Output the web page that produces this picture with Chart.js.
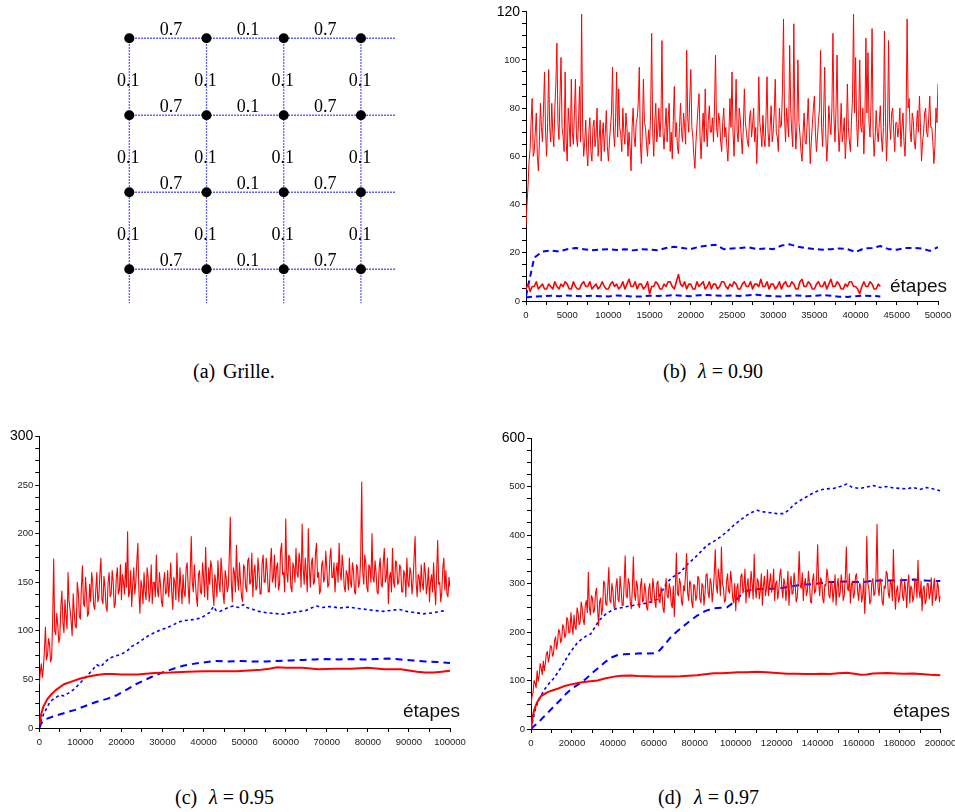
<!DOCTYPE html>
<html>
<head>
<meta charset="utf-8">
<script src="https://cdn.jsdelivr.net/npm/chart.js@4.4.1/dist/chart.umd.min.js"></script>
<style>
  html, body { margin: 0; padding: 0; background: #fff; }
  body { width: 955px; height: 812px; position: relative; overflow: hidden; }
  canvas { position: absolute; }
  .cap { position: absolute; font-family: "Liberation Serif", "Times New Roman", serif; font-size: 20px; line-height: 20px; color: #000; white-space: nowrap; }
</style>
</head>
<body>
<canvas id="grille" style="left:100px;top:0px" width="320" height="320"></canvas>
<canvas id="lam90" style="left:480px;top:0px" width="475" height="330"></canvas>
<canvas id="lam95" style="left:0px;top:420px" width="475" height="340"></canvas>
<canvas id="lam97" style="left:480px;top:420px" width="475" height="340"></canvas>

<span class="cap" style="left:193px;top:361px">(a)</span>
<span class="cap" style="left:223px;top:361px">Grille.</span>
<span class="cap" style="left:663px;top:361px">(b)</span>
<span class="cap" style="left:698px;top:361px"><i>λ</i> = 0.90</span>
<span class="cap" style="left:175px;top:787px">(c)</span>
<span class="cap" style="left:209px;top:787px"><i>λ</i> = 0.95</span>
<span class="cap" style="left:658px;top:787px">(d)</span>
<span class="cap" style="left:694px;top:787px"><i>λ</i> = 0.97</span>

<script>
// (a) grille
const gridCols = [0, 1, 2, 3];
const gridRows = [3, 2, 1, 0];
const hLabels = ["0.7", "0.1", "0.7"];
const vLabels = ["0.1", "0.1", "0.1"];
const gridEdgeX = 3.44;
const gridEdgeY = -0.44;

// (b) lambda = 0.90
const stepRedHighB = 125;
const redHighB = [
  31, 40, 48, 58, 63, 75, 84, 60, 62, 70, 78, 60, 54, 66, 82, 72, 66, 80, 95, 70,
  60, 74, 96, 72, 66, 82, 70, 64, 80, 90, 107, 74, 67, 85, 101, 72, 68, 62, 95, 66,
  58, 80, 73, 64, 92, 70, 65, 78, 92, 68, 64, 75, 89, 66, 119, 72, 60, 66, 75, 62,
  56, 70, 76, 62, 58, 72, 75, 64, 68, 80, 60, 67, 75, 58, 69, 74, 62, 70, 79, 64,
  58, 66, 72, 78, 97, 70, 64, 76, 95, 68, 88, 72, 69, 62, 80, 70, 65, 78, 72, 60,
  70, 64, 54, 72, 80, 68, 64, 74, 76, 82, 97, 66, 57, 70, 92, 74, 72, 65, 60, 71,
  65, 78, 111, 70, 60, 74, 82, 66, 71, 80, 68, 75, 108, 70, 63, 72, 80, 66, 75, 82,
  62, 70, 59, 75, 89, 68, 74, 64, 61, 72, 82, 70, 66, 78, 72, 65, 104, 76, 70, 84,
  96, 72, 68, 60, 55, 66, 73, 80, 86, 68, 59, 70, 78, 66, 88, 72, 64, 75, 81, 70,
  70, 76, 66, 80, 102, 72, 68, 78, 75, 66, 62, 74, 80, 68, 72, 64, 58, 70, 84, 72,
  95, 70, 60, 75, 92, 70, 66, 80, 76, 68, 61, 72, 88, 74, 70, 66, 64, 76, 79, 68,
  73, 80, 66, 72, 57, 70, 93, 74, 70, 64, 77, 68, 64, 76, 93, 70, 64, 72, 81, 66,
  70, 78, 92, 70, 68, 62, 80, 72, 73, 88, 117, 76, 66, 80, 74, 68, 106, 80, 70, 64,
  115, 76, 63, 72, 100, 74, 69, 62, 58, 70, 78, 66, 65, 74, 84, 70, 57, 66, 73, 80,
  85, 70, 62, 68, 75, 80, 104, 72, 64, 78, 97, 70, 58, 66, 81, 74, 69, 80, 111, 76,
  66, 80, 102, 72, 62, 70, 82, 66, 70, 76, 59, 68, 90, 72, 66, 62, 75, 84, 119, 78,
  101, 74, 64, 76, 100, 72, 70, 80, 61, 74, 109, 78, 103, 74, 68, 82, 113, 70, 60, 68,
  79, 70, 66, 74, 81, 68, 62, 72, 112, 76, 58, 70, 108, 74, 67, 78, 80, 70, 62, 74,
  74, 68, 72, 80, 64, 72, 78, 66, 60, 74, 117, 80, 84, 70, 66, 78, 75, 66, 63, 72,
  79, 70, 85, 72, 58, 66, 70, 78, 80, 70, 68, 76, 85, 72, 72, 66, 57, 64, 80, 74,
  90
];
const stepRedLowB = 250;
const redLowB = [
  5, 7, 4, 6, 6, 8, 5, 6, 7, 5, 5, 7, 6, 5, 8, 6, 5, 7, 6, 8,
  7, 5, 5, 8, 6, 5, 5, 7, 8, 6, 6, 8, 5, 6, 7, 5, 6, 8, 6, 5,
  5, 7, 8, 6, 7, 5, 6, 8, 5, 7, 9, 6, 6, 8, 5, 7, 7, 5, 6, 8,
  3, 6, 6, 8, 7, 5, 5, 7, 6, 8, 8, 6, 5, 8, 11, 7, 6, 8, 5, 7,
  7, 5, 5, 8, 6, 7, 8, 5, 6, 8, 5, 7, 7, 5, 6, 8, 8, 6, 5, 7,
  6, 8, 7, 5, 5, 7, 8, 6, 6, 8, 5, 7, 7, 6, 9, 6, 6, 8, 5, 7,
  7, 5, 6, 8, 5, 7, 8, 6, 6, 8, 7, 5, 5, 8, 9, 6, 6, 8, 7, 5,
  5, 7, 8, 6, 6, 8, 5, 7, 9, 6, 6, 8, 7, 5, 5, 7, 6, 8, 8, 6,
  6, 5, 3, 6, 8, 6, 6, 8, 7, 5, 5, 7, 6
];
const stepBlueB = 1000;
const blueHighB = [
  2, 18, 20.5, 21, 20.5, 21.5, 22, 21.5, 21, 21.3,
  21.5, 21.2, 21.5, 21, 21.5, 21.3, 21, 22, 22.5, 22,
  21.5, 22.5, 23, 23.3, 21.5, 21.8, 22, 22.3, 21.5, 21.8,
  21.5, 23, 23.5, 22.5, 22, 21.5, 21.3, 21.5, 21.8, 21.5,
  20.3, 21.8, 22, 22.8, 21.5, 21.3, 22, 22, 21.8, 20.8,
  22.3
];
const blueLowB = [
  1.5, 1.8, 2, 2.2, 2, 2.3, 2.1, 2, 2.2, 2,
  1.9, 2.3, 2.1, 1.8, 1.9, 2.2, 2.1, 2.2, 2.4, 2.2,
  2, 2.4, 2.5, 2.3, 2.2, 2.3, 2.1, 2.4, 2.6, 2.2,
  2, 1.9, 2.2, 2.3, 2, 2.1, 2.4, 2.2, 1.8, 1.7,
  2, 2.2, 2.1, 1.9
];

// (c) lambda = 0.95
const stepRedHighC = 250;
const redHighC = [
  45, 58, 66, 52, 62, 80, 104, 70, 75, 92, 86, 68, 72, 110, 174, 100, 96, 118, 106, 88,
  93, 125, 141, 108, 98, 132, 116, 102, 160, 130, 122, 110, 95, 138, 120, 105, 103, 150, 140, 115,
  112, 145, 167, 128, 125, 155, 138, 115, 118, 148, 130, 160, 150, 126, 122, 142, 160, 130, 135, 158,
  175, 132, 128, 156, 145, 125, 120, 150, 160, 135, 138, 162, 150, 124, 128, 155, 165, 138, 142, 168,
  132, 158, 150, 138, 170, 145, 202, 135, 140, 162, 125, 148, 165, 138, 150, 172, 190, 140, 118, 152,
  145, 128, 160, 140, 132, 165, 155, 130, 140, 168, 128, 150, 150, 135, 178, 142, 135, 160, 148, 130,
  125, 150, 160, 138, 140, 162, 135, 150, 170, 140, 122, 155, 150, 132, 180, 145, 130, 165, 145, 128,
  158, 140, 135, 165, 170, 145, 128, 160, 197, 150, 140, 168, 150, 135, 125, 158, 162, 140, 138, 170,
  155, 135, 186, 150, 132, 165, 148, 172, 165, 140, 126, 158, 150, 135, 172, 150, 140, 175, 160, 138,
  128, 162, 155, 140, 145, 175, 217, 150, 130, 165, 160, 140, 188, 155, 142, 170, 150, 135, 130, 168,
  165, 145, 140, 172, 175, 148, 150, 180, 135, 160, 168, 142, 145, 175, 160, 138, 138, 170, 178, 150,
  150, 175, 162, 140, 140, 168, 185, 150, 155, 178, 145, 165, 170, 142, 148, 182, 190, 158, 160, 140,
  215, 160, 150, 178, 175, 145, 140, 170, 165, 150, 185, 160, 155, 180, 170, 145, 210, 165, 148, 175,
  160, 140, 205, 165, 145, 170, 175, 148, 150, 180, 190, 155, 160, 138, 142, 168, 172, 150, 155, 182,
  165, 145, 148, 175, 185, 155, 155, 170, 140, 160, 170, 150, 190, 160, 152, 178, 165, 145, 140, 162,
  158, 142, 175, 150, 145, 170, 162, 140, 138, 168, 165, 145, 150, 175, 253, 160, 148, 178, 170, 145,
  140, 168, 165, 150, 200, 155, 150, 172, 160, 140, 138, 165, 175, 148, 145, 170, 185, 150, 155, 175,
  128, 155, 160, 140, 185, 150, 145, 172, 170, 148, 150, 168, 165, 140, 140, 162, 158, 135, 175, 150,
  145, 165, 160, 138, 150, 175, 197, 150, 135, 158, 155, 140, 168, 148, 142, 170, 160, 138, 148, 165,
  130, 150, 158, 140, 170, 145, 127, 160, 193, 148, 150, 130, 140, 165, 175, 142, 162, 138, 135, 155,
  145
];
const redSmoothC = [
  [0, 3], [500, 15], [1000, 22], [2000, 30], [3000, 35], [4000, 39], [6000, 45],
  [8000, 48], [10000, 51], [12000, 53], [14000, 54.5], [16000, 55.5], [18000, 55.5],
  [20000, 55], [24000, 55], [28000, 56.5], [32000, 57], [36000, 58], [40000, 58.5],
  [44000, 58.5], [48000, 58.5], [52000, 59.5], [54000, 60], [56000, 61], [58000, 62.5],
  [60000, 62], [64000, 62], [68000, 60.5], [72000, 61], [76000, 61], [80000, 62],
  [84000, 60.5], [88000, 60.5], [92000, 58], [94000, 57], [96000, 57], [98000, 58], [100000, 59]
];
const blueDashC = [
  [0, 0], [500, 5], [1500, 9], [3500, 12], [6500, 16], [9000, 19], [12000, 24],
  [14000, 27], [16500, 30], [19000, 34], [21500, 40], [23500, 45], [25000, 48],
  [27000, 52], [29000, 55.5], [31000, 58.5], [33000, 61.5], [35000, 64], [37500, 66],
  [40000, 67.5], [43000, 69], [46000, 68.5], [49000, 69], [52000, 68.5], [55000, 68.5],
  [58000, 69], [61000, 69.5], [64000, 70], [67000, 70.5], [70000, 71], [73000, 70.5],
  [76000, 71], [79000, 70.5], [82000, 71], [85000, 71.5], [88000, 70.5], [91000, 69.5],
  [94000, 68.5], [97000, 68], [100000, 67]
];
const blueDotC = [
  [0, 0], [500, 8], [1000, 14], [2000, 22], [2600, 27], [3500, 30], [5000, 34], [6000, 33],
  [7500, 37], [8500, 40], [9900, 46], [11000, 51], [11900, 55], [13000, 60], [14000, 65],
  [15000, 63], [16000, 68], [17200, 72], [18500, 74], [20000, 76], [21300, 79], [22500, 84],
  [23500, 86], [24500, 89], [25500, 92], [26900, 96], [28000, 98], [29500, 101], [31000, 103],
  [32500, 106], [34000, 109], [35000, 110.5], [36500, 111], [38000, 112], [39100, 113],
  [40500, 116], [41500, 119], [42400, 125], [43000, 121], [44000, 120], [45000, 122],
  [46000, 124], [47200, 125.5], [48500, 124], [49700, 127], [50500, 124], [52100, 122],
  [53500, 120], [55400, 118.5], [57000, 118], [59400, 117], [61000, 118.5], [63500, 120],
  [65000, 121], [66500, 124], [67500, 125.5], [69000, 124], [70500, 125], [71600, 124.5],
  [73000, 123.5], [75600, 124.5], [77500, 123], [79700, 122], [81500, 121], [83800, 120],
  [85500, 121], [87800, 122], [89500, 120], [91900, 118.5], [93500, 117.5], [95900, 118.5],
  [97500, 120], [99200, 121]
];

// (d) lambda = 0.97
const stepRedHighD = 500;
const redHighD = [
  50, 68, 75, 100, 95, 85, 120, 98, 110, 135, 125, 112, 140, 120, 135, 155, 160, 138, 150, 172,
  170, 150, 155, 182, 190, 165, 180, 205, 200, 178, 185, 215, 210, 188, 195, 230, 225, 198, 200, 240,
  215, 195, 235, 210, 205, 250, 240, 215, 220, 262, 250, 225, 215, 255, 265, 240, 323, 250, 235, 275,
  270, 240, 245, 280, 290, 250, 213, 262, 270, 235, 250, 305, 300, 258, 255, 290, 333, 265, 260, 300,
  285, 252, 250, 295, 310, 268, 262, 315, 290, 255, 255, 300, 357, 275, 270, 310, 300, 260, 248, 290,
  355, 280, 265, 305, 295, 255, 250, 295, 310, 262, 265, 300, 285, 250, 245, 288, 300, 268, 260, 310,
  290, 262, 250, 300, 305, 265, 260, 292, 280, 248, 240, 285, 310, 275, 270, 300, 290, 258, 250, 295,
  232, 290, 363, 280, 275, 310, 300, 262, 255, 295, 285, 320, 362, 280, 265, 305, 300, 262, 250, 298,
  295, 265, 275, 315, 310, 268, 260, 300, 295, 255, 280, 318, 320, 280, 270, 310, 300, 262, 285, 320,
  370, 295, 280, 330, 310, 275, 375, 300, 290, 262, 265, 305, 320, 285, 280, 325, 305, 270, 260, 300,
  244, 290, 300, 262, 275, 315, 320, 280, 290, 330, 260, 295, 310, 270, 285, 325, 300, 268, 360, 290,
  270, 310, 305, 268, 285, 320, 255, 295, 315, 275, 290, 328, 275, 300, 320, 282, 295, 330, 265, 300,
  305, 268, 285, 318, 330, 290, 270, 310, 300, 265, 290, 325, 255, 295, 315, 278, 280, 322, 300, 262,
  270, 305, 366, 295, 290, 322, 265, 300, 310, 275, 285, 325, 300, 262, 260, 305, 320, 280, 285, 315,
  380, 300, 275, 312, 305, 268, 260, 298, 295, 330, 315, 275, 270, 305, 300, 262, 285, 318, 255, 295,
  310, 272, 280, 318, 300, 265, 275, 312, 375, 290, 285, 320, 260, 298, 305, 270, 280, 315, 320, 285,
  265, 300, 295, 262, 275, 310, 238, 285, 397, 300, 290, 258, 265, 305, 310, 275, 280, 318, 422, 290,
  275, 310, 300, 262, 255, 295, 290, 325, 320, 280, 270, 305, 300, 265, 370, 290, 247, 285, 295, 262,
  270, 300, 310, 272, 265, 305, 285, 250, 300, 318, 260, 295, 290, 262, 275, 310, 305, 270, 348, 285,
  270, 305, 244, 288, 295, 258, 265, 300, 300, 268, 280, 312, 255, 290, 310, 265, 270, 305, 290, 262,
  275
];
const redSmoothD = [
  [0, 0], [800, 25], [1600, 40], [3000, 55], [4900, 68], [6500, 72], [8100, 76], [10000, 79],
  [13000, 83], [16000, 88], [19500, 92], [22000, 94], [24300, 96], [28000, 98], [32500, 100],
  [36000, 104], [40600, 108], [44000, 110], [48700, 110.5], [52000, 109.5], [56800, 109],
  [60000, 108.5], [64900, 108], [69000, 108.5], [73000, 109], [77000, 110], [81100, 111],
  [85000, 113], [89300, 115], [93000, 115], [97400, 116], [101000, 117], [105500, 117],
  [110400, 118], [115000, 117], [121700, 115], [125000, 114], [129800, 114], [134000, 113.5],
  [138000, 113.5], [142000, 114], [146100, 113.5], [150000, 115], [154200, 116], [158000, 114],
  [161000, 112], [163900, 112.5], [167000, 114.5], [170400, 115], [174000, 115.5],
  [178500, 114.5], [182000, 114], [186600, 114.5], [190000, 113.5], [195000, 112], [200000, 111]
];
const blueDotD = [
  [0, 0], [1000, 20], [2400, 45], [4000, 62], [6500, 81], [9000, 95], [11000, 104], [13000, 116],
  [15500, 132], [17900, 150], [20000, 163], [22700, 178], [25000, 186], [27000, 192],
  [29200, 196], [31500, 212], [33500, 225], [35700, 234], [38000, 241], [40600, 247],
  [44000, 250], [48700, 254], [52000, 256], [56800, 260], [59500, 263], [61700, 268],
  [64000, 284], [66500, 303], [69500, 314], [73000, 323], [76000, 338], [79500, 351],
  [83000, 366], [86000, 379], [89000, 386], [92500, 396], [96000, 408], [99000, 420],
  [102000, 430], [105500, 441], [108000, 447], [110400, 451], [113000, 448], [116900, 446],
  [120000, 444], [123400, 444], [126000, 452], [128200, 462], [131000, 470], [134700, 479],
  [138000, 487], [141200, 493], [144000, 495], [147700, 496], [151000, 500], [154200, 505],
  [157000, 498], [160700, 496], [164000, 499], [167200, 502], [170500, 498], [173700, 500],
  [177000, 497], [180200, 496], [183500, 495], [186600, 498], [190000, 494], [193100, 498],
  [196500, 495], [200000, 491]
];
const blueDashD = [
  [0, 0], [1500, 6], [3250, 12], [5500, 22], [8100, 33], [11000, 46], [14600, 61], [17000, 72],
  [19500, 82], [22000, 89], [24300, 95], [27000, 104], [29200, 113], [31500, 121], [34100, 130],
  [36500, 139], [39000, 147], [42000, 152], [45400, 154], [49000, 155], [53600, 156],
  [57000, 155.5], [60000, 156], [62000, 159], [63300, 164.5], [65500, 175], [68200, 189],
  [71000, 200], [74700, 213], [78000, 224], [81200, 234], [85000, 243], [89300, 249],
  [92500, 250], [95800, 251], [98000, 258], [100600, 268], [103000, 278], [105500, 285],
  [109000, 288], [113600, 289], [117500, 289], [121700, 290], [125500, 293], [129800, 296],
  [134000, 298], [138000, 299], [142000, 301], [146100, 303], [150000, 303.5], [154200, 304],
  [158000, 303], [162300, 303], [166000, 305], [170400, 306], [174500, 306], [178500, 306],
  [182500, 307], [186600, 308], [190000, 307], [193100, 306], [196500, 305.5], [200000, 305]
];

const sansFont = '"Liberation Sans", Arial, sans-serif';
const RED = "#ff0000";
const BLUE = "#0000ff";

function uniform(values, step) {
  return values.map((v, i) => ({ x: i * step, y: v }));
}
function pairs(list) {
  return list.map(p => ({ x: p[0], y: p[1] }));
}
function serie(data, color, width, dash) {
  return { data: data, borderColor: color, borderWidth: width, borderDash: dash || [], pointRadius: 0, fill: false };
}

// texte "étapes" dans le coin du graphe
const etapesPlugin = {
  id: "etapes",
  afterDraw(chart, args, opts) {
    const ctx = chart.ctx;
    ctx.save();
    ctx.font = "19px " + sansFont;
    ctx.fillStyle = "#111";
    ctx.textAlign = "left";
    ctx.textBaseline = "alphabetic";
    ctx.fillText("étapes", opts.x, opts.y);
    ctx.restore();
  }
};

function makePanel(id, area, xCfg, yCfg, datasets, etapesPos) {
  const canvas = document.getElementById(id);
  const W = canvas.width, H = canvas.height;
  return new Chart(canvas, {
    type: "line",
    data: { datasets: datasets },
    options: {
      responsive: false,
      animation: false,
      events: [],
      layout: { autoPadding: false, padding: { top: area.top, right: W - area.right, left: 0, bottom: 0 } },
      plugins: { legend: { display: false }, tooltip: { enabled: false }, etapes: etapesPos },
      elements: { line: { tension: 0, borderJoinStyle: "round" } },
      scales: {
        x: {
          type: "linear", min: 0, max: xCfg.max,
          afterFit: s => { s.height = H - area.bottom; s.paddingLeft = 0; s.paddingRight = 0; },
          border: { display: true, color: "#000", width: 1 },
          grid: { display: true, drawOnChartArea: false, drawTicks: true, tickLength: 4, tickColor: "#000" },
          ticks: {
            stepSize: xCfg.step, autoSkip: false, maxRotation: 0, padding: 5,
            color: "#222", font: { family: sansFont, size: 9.5 },
            callback: v => (v % xCfg.labelEvery === 0 ? String(v) : "")
          }
        },
        y: {
          type: "linear", min: 0, max: yCfg.max,
          afterFit: s => { s.width = area.left; s.paddingTop = 0; s.paddingBottom = 0; },
          border: { display: true, color: "#000", width: 1 },
          grid: { display: true, drawOnChartArea: false, drawTicks: true, tickLength: 4, tickColor: "#000" },
          ticks: {
            stepSize: yCfg.step, autoSkip: false, padding: 2,
            color: c => (c.tick && c.tick.value === yCfg.max ? "#000" : "#222"),
            font: c => (c.tick && c.tick.value === yCfg.max ? { family: sansFont, size: 14 } : { family: sansFont, size: 9.5 }),
            callback: v => (v % yCfg.labelEvery === 0 ? String(v) : "")
          }
        }
      }
    },
    plugins: [etapesPlugin]
  });
}

// (a) grille : noeuds, traits pointillés, probabilités
const grilleLabels = {
  id: "grilleLabels",
  afterDatasetsDraw(chart) {
    const ctx = chart.ctx;
    const xs = chart.scales.x, ys = chart.scales.y;
    ctx.save();
    ctx.font = '18px "Liberation Serif", "Times New Roman", serif';
    ctx.fillStyle = "#000";
    ctx.textAlign = "center";
    ctx.textBaseline = "alphabetic";
    gridRows.forEach(r => {
      hLabels.forEach((t, j) => {
        ctx.fillText(t, xs.getPixelForValue(gridCols[j] + 0.5) + 3, ys.getPixelForValue(r) - 3);
      });
    });
    gridCols.forEach(c => {
      vLabels.forEach((t, k) => {
        ctx.fillText(t, xs.getPixelForValue(c) - 1, ys.getPixelForValue(gridRows[k] - 0.5) + 9.5);
      });
    });
    ctx.restore();
  }
};

const nodes = [];
gridRows.forEach(r => gridCols.forEach(c => nodes.push({ x: c, y: r })));
const gridLines = [];
gridRows.forEach(r => gridLines.push([{ x: gridCols[0], y: r }, { x: gridEdgeX, y: r }]));
gridCols.forEach(c => gridLines.push([{ x: c, y: gridRows[0] }, { x: c, y: gridEdgeY }]));

new Chart(document.getElementById("grille"), {
  type: "scatter",
  data: {
    datasets: [
      { data: nodes, pointRadius: 5, pointBackgroundColor: "#000", pointBorderWidth: 0, showLine: false }
    ].concat(gridLines.map(l => ({
      data: l, showLine: true, pointRadius: 0, borderColor: "#3030ff", borderWidth: 1.3, borderDash: [1.5, 1.5]
    })))
  },
  options: {
    responsive: false,
    animation: false,
    events: [],
    layout: { autoPadding: false, padding: 0 },
    plugins: { legend: { display: false }, tooltip: { enabled: false } },
    scales: {
      x: { type: "linear", display: false, min: -0.3795, max: 3.765 },
      y: { type: "linear", display: false, min: -0.659, max: 3.497 }
    }
  },
  plugins: [grilleLabels]
});

makePanel("lam90",
  { left: 46, top: 11.7, right: 458, bottom: 301 },
  { max: 50000, step: 2500, labelEvery: 5000 },
  { max: 120, step: 5, labelEvery: 20 },
  [
    serie(uniform(redHighB, stepRedHighB), RED, 1),
    serie(uniform(redLowB, stepRedLowB), RED, 1.6),
    serie(uniform(blueHighB, stepBlueB), BLUE, 2, [6, 4]),
    serie(uniform(blueLowB, stepBlueB), BLUE, 2, [6, 4])
  ],
  { x: 410, y: 292 }
);

makePanel("lam95",
  { left: 39.3, top: 16.5, right: 450, bottom: 308 },
  { max: 100000, step: 5000, labelEvery: 10000 },
  { max: 300, step: 12.5, labelEvery: 50 },
  [
    serie(uniform(redHighC, stepRedHighC), RED, 1.1),
    serie(pairs(redSmoothC), RED, 2),
    serie(pairs(blueDotC), BLUE, 1.6, [3, 3]),
    serie(pairs(blueDashC), BLUE, 2, [7, 5])
  ],
  { x: 403, y: 297 }
);

makePanel("lam97",
  { left: 51, top: 18, right: 460.5, bottom: 309 },
  { max: 200000, step: 10000, labelEvery: 20000 },
  { max: 600, step: 25, labelEvery: 100 },
  [
    serie(uniform(redHighD, stepRedHighD), RED, 1.1),
    serie(pairs(redSmoothD), RED, 2),
    serie(pairs(blueDotD), BLUE, 1.6, [3, 3]),
    serie(pairs(blueDashD), BLUE, 2, [7, 5])
  ],
  { x: 413, y: 297 }
);
</script>
</body>
</html>
